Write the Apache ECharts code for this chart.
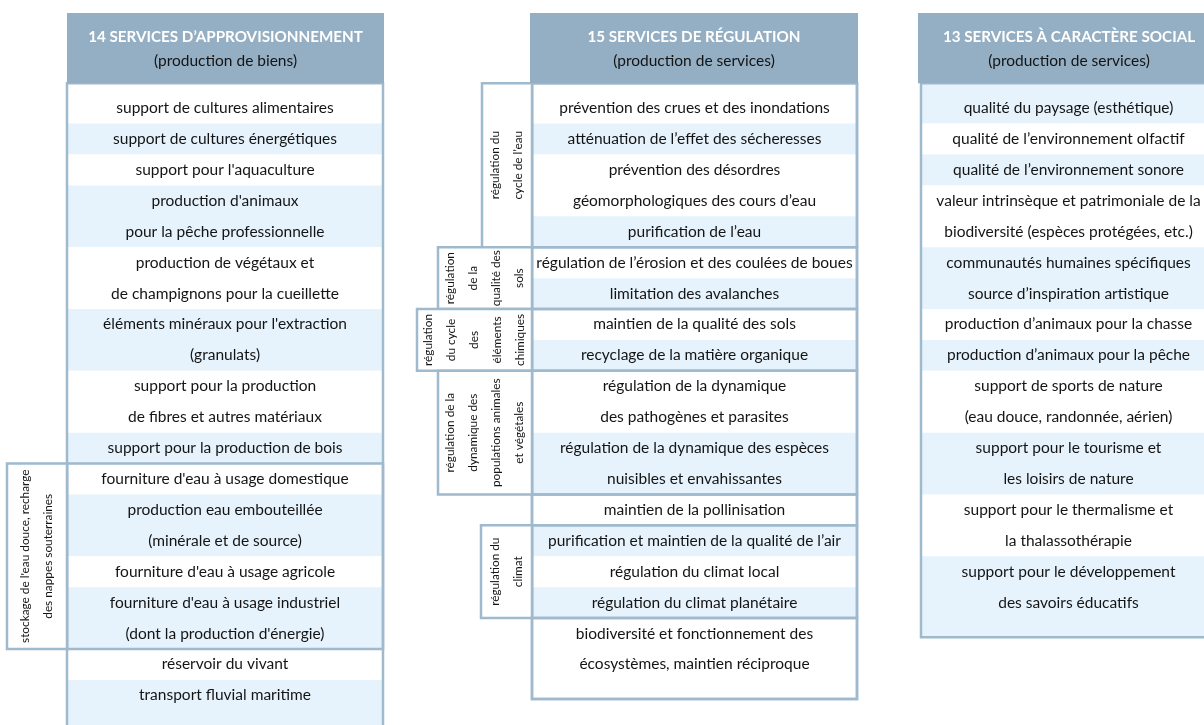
<!DOCTYPE html>
<html><head><meta charset="utf-8">
<script src="https://cdn.jsdelivr.net/npm/echarts@6/dist/echarts.min.js"></script>
<style>html,body{margin:0;padding:0;background:#fff}#c{width:1204px;height:725px}</style>
</head><body><div id="c"></div>
<script>
// ---------- DATA ----------
const provisionTitle = ["14 SERVICES D’APPROVISIONNEMENT", "(production de biens)"];
const regulationTitle = ["15 SERVICES DE RÉGULATION", "(production de services)"];
const socialTitle = ["13 SERVICES À CARACTÈRE SOCIAL", "(production de services)"];

const provisionRows = [
  ["support de cultures alimentaires"],
  ["support de cultures énergétiques"],
  ["support pour l'aquaculture"],
  ["production d'animaux", "pour la pêche professionnelle"],
  ["production de végétaux et", "de champignons pour la cueillette"],
  ["éléments minéraux pour l'extraction", "(granulats)"],
  ["support pour la production", "de fibres et autres matériaux"],
  ["support pour la production de bois"],
  ["fourniture d'eau à usage domestique"],
  ["production eau embouteillée", "(minérale et de source)"],
  ["fourniture d'eau à usage agricole"],
  ["fourniture d'eau à usage industriel", "(dont la production d'énergie)"],
  ["réservoir du vivant"],
  ["transport fluvial maritime"]
];
const provisionGroups = [
  { label: ["stockage de l'eau douce, recharge", "des nappes souterraines"], rows: [8, 11] }
];

const regulationRows = [
  ["prévention des crues et des inondations"],
  ["atténuation de l’effet des sécheresses"],
  ["prévention des désordres", "géomorphologiques des cours d’eau"],
  ["purification de l’eau"],
  ["régulation de l’érosion et des coulées de boues"],
  ["limitation des avalanches"],
  ["maintien de la qualité des sols"],
  ["recyclage de la matière organique"],
  ["régulation de la dynamique", "des pathogènes et parasites"],
  ["régulation de la dynamique des espèces", "nuisibles et envahissantes"],
  ["maintien de la pollinisation"],
  ["purification et maintien de la qualité de l’air"],
  ["régulation du climat local"],
  ["régulation du climat planétaire"],
  ["biodiversité et fonctionnement des", "écosystèmes, maintien réciproque"]
];
const regulationGroups = [
  { label: ["régulation du", "cycle de l’eau"], rows: [0, 3] },
  { label: ["régulation", "de la", "qualité des", "sols"], rows: [4, 5] },
  { label: ["régulation", "du cycle", "des", "éléments", "chimiques"], rows: [6, 7] },
  { label: ["régulation de la", "dynamique des", "populations animales", "et végétales"], rows: [8, 9] },
  { label: [], rows: [10, 10] },
  { label: ["régulation du", "climat"], rows: [11, 13] },
  { label: [], rows: [14, 14] }
];

const socialRows = [
  ["qualité du paysage (esthétique)"],
  ["qualité de l’environnement olfactif"],
  ["qualité de l’environnement sonore"],
  ["valeur intrinsèque et patrimoniale de la", "biodiversité (espèces protégées, etc.)"],
  ["communautés humaines spécifiques", "source d’inspiration artistique"],
  ["production d’animaux pour la chasse"],
  ["production d’animaux pour la pêche"],
  ["support de sports de nature", "(eau douce, randonnée, aérien)"],
  ["support pour le tourisme et", "les loisirs de nature"],
  ["support pour le thermalisme et", "la thalassothérapie"],
  ["support pour le développement", "des savoirs éducatifs"]
];
const socialGroups = [];

// ---------- LAYOUT / STYLE ----------
const layout = {
  yMin: -3.5, yMax: 19.96,
  headerTop: -3.08, headerBottom: -0.81, titleY: -2.31, subtitleY: -1.53, bottomPad: 0.62,
  sideSpacing: 23,
  panels: [
    { hx0: 67, hx1: 384, x0: 67, x1: 383, firstBlue: false, sideW: [60] },
    { hx0: 530, hx1: 858, x0: 532, x1: 857, firstBlue: false, sideW: [50, 94, 115, 94, 0, 51, 0] },
    { hx0: 918, hx1: 1220, x0: 921, x1: 1216, firstBlue: true, sideW: [] }
  ]
};
const C = { header: '#94afc3', band: '#e6f3fc', border: '#9fb9cd', text: '#141414', title: '#ffffff' };
const FONT = 'Lato, "Open Sans", sans-serif';
const BODY_SIZE = 15.5, TITLE_SIZE = 15.2, SIDE_SIZE = 11.8;

const panels = [
  { title: provisionTitle, rows: provisionRows, groups: provisionGroups },
  { title: regulationTitle, rows: regulationRows, groups: regulationGroups },
  { title: socialTitle, rows: socialRows, groups: socialGroups }
];
panels.forEach(p => {
  let s = 0;
  p.spans = p.rows.map(r => { const a = [s, s + r.length - 1]; s += r.length; return a; });
  p.nLines = s;
});
function rowTop(p, i) { return i === 0 ? layout.headerBottom : p.spans[i][0] - 0.5; }
function rowBottom(p, i) { return i === p.rows.length - 1 ? p.spans[i][1] + 0.5 + layout.bottomPad : p.spans[i][1] + 0.5; }

// series data (indices into the arrays above)
const bandData = [], textData = [], groupData = [], headerData = [], frameData = [];
panels.forEach((p, pi) => {
  headerData.push([pi]);
  frameData.push([pi]);
  p.rows.forEach((r, ri) => {
    bandData.push([pi, ri]);
    r.forEach((t, li) => textData.push([pi, ri, li]));
  });
  p.groups.forEach((g, gi) => groupData.push([pi, gi]));
});

function rectFrom(api, x0, y0, x1, y1) {
  const a = api.coord([x0, y0]), b = api.coord([x1, y1]);
  return { x: a[0], y: a[1], width: b[0] - a[0], height: b[1] - a[1] };
}

const chart = echarts.init(document.getElementById('c'), null, { renderer: 'canvas' });
chart.setOption({
  animation: false,
  grid: { left: 0, right: 0, top: 0, bottom: 0 },
  xAxis: { type: 'value', min: 0, max: 1204, show: false },
  yAxis: { type: 'value', min: layout.yMin, max: layout.yMax, inverse: true, show: false },
  series: [
    { // row bands
      type: 'custom', clip: false, z: 1, data: bandData,
      renderItem: (params, api) => {
        const pi = api.value(0), ri = api.value(1), p = panels[pi], L = layout.panels[pi];
        const blue = (ri % 2 === 0) === L.firstBlue;
        return { type: 'rect', shape: rectFrom(api, L.x0, rowTop(p, ri), L.x1, rowBottom(p, ri)),
          style: { fill: blue ? C.band : '#ffffff' } };
      }
    },
    { // main column frame
      type: 'custom', clip: false, z: 2, data: frameData,
      renderItem: (params, api) => {
        const pi = api.value(0), p = panels[pi], L = layout.panels[pi];
        return { type: 'rect', shape: rectFrom(api, L.x0, layout.headerBottom, L.x1, rowBottom(p, p.rows.length - 1)),
          style: { fill: 'none', stroke: C.border, lineWidth: 2.5 } };
      }
    },
    { // groups: side label boxes + main column group frames
      type: 'custom', clip: false, z: 3, data: groupData,
      renderItem: (params, api) => {
        const pi = api.value(0), gi = api.value(1), p = panels[pi], L = layout.panels[pi];
        const g = p.groups[gi], w = L.sideW[gi] || 0;
        const y0 = rowTop(p, g.rows[0]), y1 = rowBottom(p, g.rows[1]);
        const children = [];
        children.push({ type: 'rect', shape: rectFrom(api, L.x0, y0, L.x1, y1),
          style: { fill: 'none', stroke: C.border, lineWidth: 2.5 } });
        if (w > 0) {
          const box = rectFrom(api, L.x0 - w, y0, L.x0, y1);
          children.push({ type: 'rect', shape: box, style: { fill: '#ffffff', stroke: C.border, lineWidth: 2.5 } });
          const n = g.label.length, cx = box.x + box.width / 2, cy = box.y + box.height / 2;
          g.label.forEach((t, k) => {
            children.push({ type: 'text', x: cx + (k - (n - 1) / 2) * layout.sideSpacing, y: cy, rotation: Math.PI / 2,
              style: { text: t, fill: C.text, font: SIDE_SIZE + 'px ' + FONT, align: 'center', verticalAlign: 'middle' } });
          });
        }
        return { type: 'group', children };
      }
    },
    { // cell texts
      type: 'custom', clip: false, z: 4, data: textData,
      renderItem: (params, api) => {
        const pi = api.value(0), ri = api.value(1), li = api.value(2), p = panels[pi], L = layout.panels[pi];
        const pt = api.coord([(L.x0 + L.x1) / 2, p.spans[ri][0] + li]);
        return { type: 'text', x: pt[0], y: pt[1],
          style: { text: p.rows[ri][li], fill: C.text, font: BODY_SIZE + 'px ' + FONT, align: 'center', verticalAlign: 'middle' } };
      }
    },
    { // headers
      type: 'custom', clip: false, z: 5, data: headerData,
      renderItem: (params, api) => {
        const pi = api.value(0), p = panels[pi], L = layout.panels[pi];
        const cx = (L.hx0 + L.hx1) / 2;
        const t = api.coord([cx, layout.titleY]), s = api.coord([cx, layout.subtitleY]);
        return { type: 'group', children: [
          { type: 'rect', shape: rectFrom(api, L.hx0, layout.headerTop, L.hx1, layout.headerBottom), style: { fill: C.header } },
          { type: 'text', x: t[0], y: t[1], style: { text: p.title[0], fill: C.title, font: 'bold ' + TITLE_SIZE + 'px ' + FONT, align: 'center', verticalAlign: 'middle' } },
          { type: 'text', x: s[0], y: s[1], style: { text: p.title[1], fill: C.text, font: BODY_SIZE + 'px ' + FONT, align: 'center', verticalAlign: 'middle' } }
        ] };
      }
    }
  ]
});
</script>
</body></html>
